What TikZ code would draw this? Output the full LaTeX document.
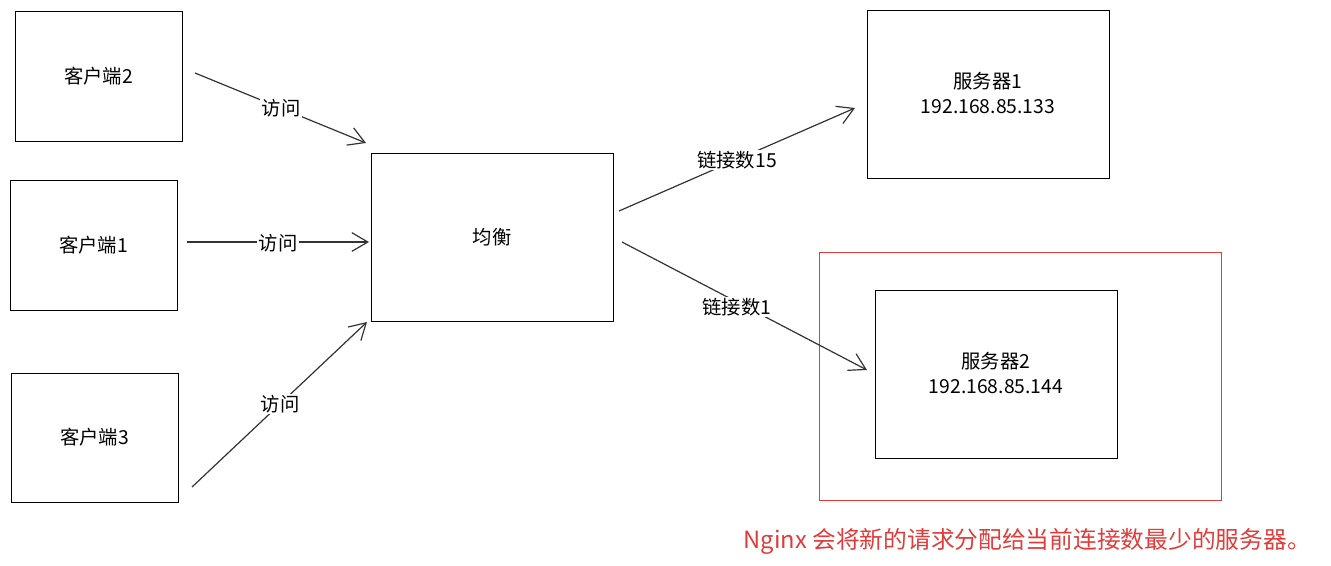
\documentclass[tikz,border=0pt]{standalone}
\usepackage{fontspec}
\setmainfont{Noto Sans CJK SC}
\usetikzlibrary{arrows.meta}
\definecolor{ln}{HTML}{333333}
\definecolor{redc}{HTML}{E03C3C}
\begin{document}
\begin{tikzpicture}[x=0.75pt,y=-0.75pt,
  box/.style={draw=black,line width=0.75pt},
  conn/.style={draw=ln,line width=0.9pt,-{Straight Barb[length=12pt,width=14pt,line width=0.9pt]}},
  lbl/.style={fill=white,inner sep=1pt,font=\fontsize{14.5pt}{17pt}\selectfont},
  txt/.style={font=\fontsize{14.5pt}{19pt}\selectfont,align=center}]
\useasboundingbox (0,0) rectangle (1331,565);
% boxes
\draw[box] (15,11) rectangle (182,141);
\node[txt] (c2) at (98.5,76) {客户端2};
\draw[box] (10,180) rectangle (177,310);
\node[txt] (c1) at (93.5,245) {客户端1};
\draw[box] (11,373) rectangle (178,502);
\node[txt] (c3) at (94.5,437) {客户端3};
\draw[box] (371,153) rectangle (613,321);
\node[txt] (lb) at (492,237) {均衡};
\draw[box] (867,10) rectangle (1109,178);
\node[txt] (s1) at (988,93) {服务器1\\192.168.85.133};
\draw[redc,line width=0.75pt] (819,252) rectangle (1221,500);
\draw[box] (875,290) rectangle (1117,458);
\node[txt] (s2) at (996,373) {服务器2\\192.168.85.144};
% connectors
\coordinate (a2s) at (195,73); \coordinate (a2e) at (366,143);
\coordinate (a1s) at (187,242); \coordinate (a1e) at (369,242);
\coordinate (a3s) at (192,487); \coordinate (a3e) at (367,322);
\coordinate (b1s) at (619,211); \coordinate (b1e) at (855,108);
\coordinate (b2s) at (622,242); \coordinate (b2e) at (867,370);
\draw[conn] (a2s) -- (a2e);
\draw[conn] (a1s) -- (a1e);
\draw[conn] (a3s) -- (a3e);
\draw[conn] (b1s) -- (b1e);
\draw[conn] (b2s) -- (b2e);
\node[lbl] (l2) at (281,108) {访问};
\node[lbl] (l1) at (278,243) {访问};
\node[lbl] (l3) at (280,404) {访问};
\node[lbl] (l4) at (737,160) {链接数15};
\node[lbl] (l5) at (737,307) {链接数1};
\node[anchor=east,text=redc,inner sep=0pt,font=\fontsize{17.8pt}{22pt}\selectfont] (note) at (1311,541) {Nginx 会将新的请求分配给当前连接数最少的服务器。};
\end{tikzpicture}
\end{document}
